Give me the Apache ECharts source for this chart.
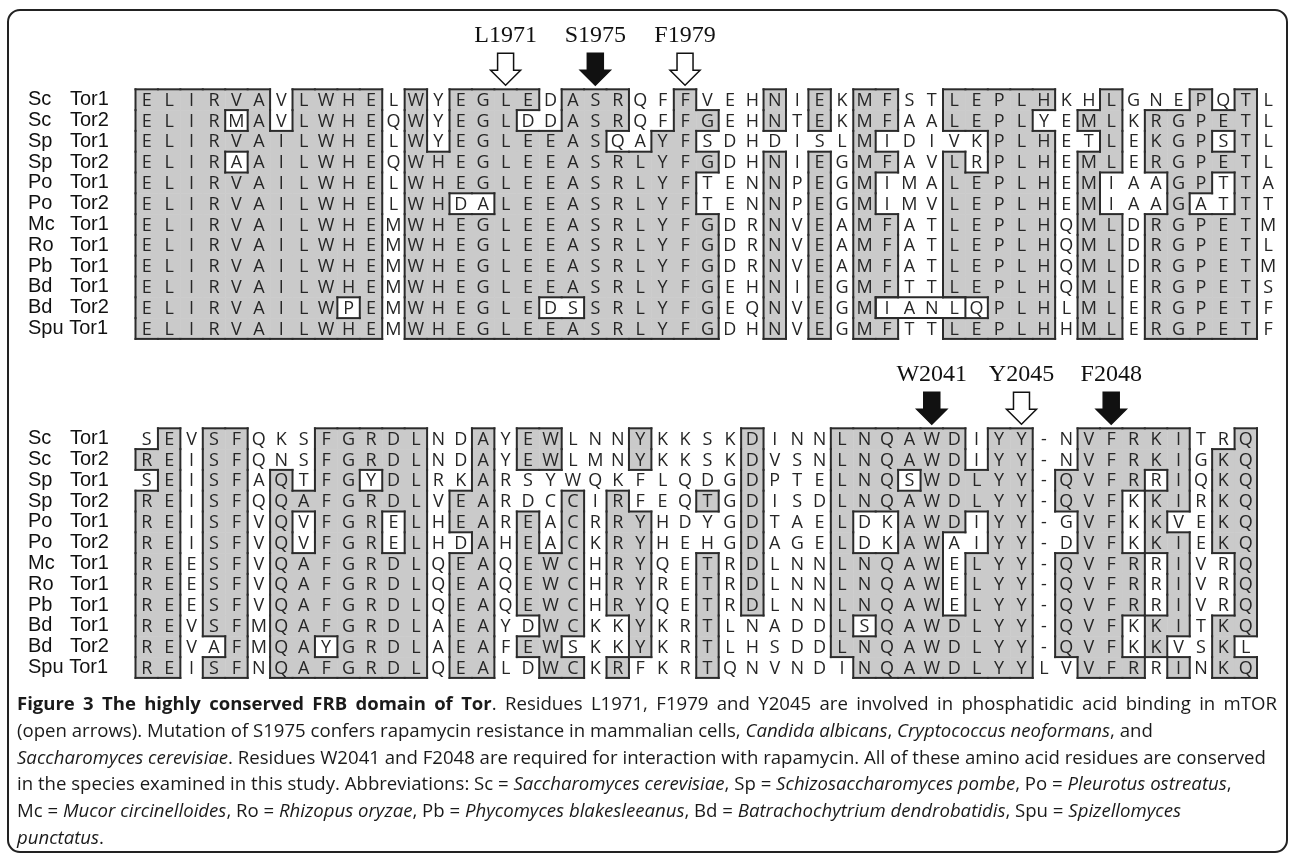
<!DOCTYPE html>
<html>
<head>
<meta charset="utf-8">
<style>
    html, body { margin: 0; padding: 0; background: #fff; }
    #chart { width: 1293px; height: 857px; }
</style>
</head>
<body>
<div id="chart"></div>
<script src="https://cdn.jsdelivr.net/npm/echarts@6/dist/echarts.min.js"></script>
<script>
// row names, same for both blocks
const rowNames = ['Sc Tor1', 'Sc Tor2', 'Sp Tor1', 'Sp Tor2', 'Po Tor1', 'Po Tor2',
    'Mc Tor1', 'Ro Tor1', 'Pb Tor1', 'Bd Tor1', 'Bd Tor2', 'Spu Tor1'];

// block 1 residues
const seqTop = [
    'ELIRVAVLWHELWYEGLEDASRQFFVEHNIEKMFSTLEPLHKHLGNEPQTL',
    'ELIRMAVLWHEQWYEGLDDASRQFFGEHNTEKMFAALEPLYEMLKRGPETL',
    'ELIRVAILWHELWYEGLEEASQAYFSDHDISLMIDIVKPLHETLEKGPSTL',
    'ELIRAAILWHEQWHEGLEEASRLYFGDHNIEGMFAVLRPLHEMLERGPETL',
    'ELIRVAILWHELWHEGLEEASRLYFTENNPEGMIMALEPLHEMIAAGPTTA',
    'ELIRVAILWHELWHDALEEASRLYFTENNPEGMIMVLEPLHEMIAAGATTT',
    'ELIRVAILWHEMWHEGLEEASRLYFGDRNVEAMFATLEPLHQMLDRGPETM',
    'ELIRVAILWHEMWHEGLEEASRLYFGDRNVEAMFATLEPLHQMLDRGPETL',
    'ELIRVAILWHEMWHEGLEEASRLYFGDRNVEAMFATLEPLHQMLDRGPETM',
    'ELIRVAILWHEMWHEGLEEASRLYFGEHNIEGMFTTLEPLHQMLERGPETS',
    'ELIRVAILWPEMWHEGLEDSSRLYFGEQNVEGMIANLQPLHLMLERGPETF',
    'ELIRVAILWHEMWHEGLEEASRLYFGDHNVEGMFTTLEPLHHMLERGPETF'
];
// block 1 shading ('#' = grey box)
const shadeTop = [
    '######.###' + '#.#.####.#' + '##..#...#.' + '#.##..####' + '#..#...#.#.',
    '####.#.###' + '#.#.###..#' + '##..##..#.' + '#.##..####' + '..##.#####.',
    '##########' + '#.#.######' + '#..##.....' + '..#.....##' + '#..#.###.#.',
    '####.#####' + '#.########' + '######..#.' + '#.##..#.##' + '#.##.#####.',
    '##########' + '#.########' + '#####...#.' + '#.#...####' + '#.#...##.#.',
    '##########' + '#.##..####' + '#####...#.' + '#.#...####' + '#.#...#..#.',
    '##########' + '#.########' + '######..#.' + '#.##..####' + '#.##.#####.',
    '##########' + '#.########' + '######..#.' + '#.##..####' + '#.##.#####.',
    '##########' + '#.########' + '######..#.' + '#.##..####' + '#.##.#####.',
    '##########' + '#.########' + '######..#.' + '#.##..####' + '#.##.#####.',
    '#########.' + '#.######..' + '######..#.' + '#.#.....##' + '#.##.#####.',
    '##########' + '#.########' + '######..#.' + '#.##..####' + '#.##.#####.'
];
// extra outlined runs in block 1: [row, first col, last col]
const boxTop = [[10, 33, 36]];

// block 2 residues
const seqBottom = [
    'SEVSFQKSFGRDLNDAYEWLNNYKKSKDINNLNQAWDIYY-NVFRKITRQ',
    'REISFQNSFGRDLNDAYEWLMNYKKSKDVSNLNQAWDIYY-NVFRKIGKQ',
    'SEISFAQTFGYDLRKARSYWQKFLQDGDPTELNQSWDLYY-QVFRRIQKQ',
    'REISFQQAFGRDLVEARDCCIRFEQTGDISDLNQAWDLYY-QVFKKIRKQ',
    'REISFVQVFGRELHEAREACRRYHDYGDTAELDKAWDIYY-GVFKKVEKQ',
    'REISFVQVFGRELHDAHEACKRYHEHGDAGELDKAWAIYY-DVFKKIEKQ',
    'REESFVQAFGRDLQEAQEWCHRYQETRDLNNLNQAWELYY-QVFRRIVRQ',
    'REESFVQAFGRDLQEAQEWCHRYRETRDLNNLNQAWELYY-QVFRRIVRQ',
    'REESFVQAFGRDLQEAQEWCHRYQETRDLNNLNQAWELYY-QVFRRIVRQ',
    'REVSFMQAFGRDLAEAYDWCKKYKRTLNADDLSQAWDLYY-QVFKKITKQ',
    'REVAFMQAYGRDLAEAFEWSKKYKRTLHSDDLNQAWDLYY-QVFKKVSKL',
    'REISFNQAFGRDLQEALDWCKRFKRTQNVNDINQAWDLYYLVVFRRINKQ'
];
const shadeBottom = [
    '.#.##...##' + '###..#.##.' + '..#....#..' + '.######.##' + '..#####..#',
    '##.##...##' + '###..#.##.' + '..#....#..' + '.######.##' + '..#####.##',
    '.#.##.#.##' + '.##..#....' + '.......#..' + '.###.#####' + '.####.#.##',
    '##.##.####' + '###.##...#' + '.#...#.#..' + '.#########' + '.###.##.##',
    '##.##.#.##' + '#.#.##.#.#' + '.##....#..' + '.#..###.##' + '..##.#..##',
    '##.##.#.##' + '#.#..#.#.#' + '.##....#..' + '.#..##..##' + '..##.##.##',
    '##.##.####' + '###.##.###' + '.##..#.#..' + '.#####.###' + '.####.#..#',
    '##.##.####' + '###.##.###' + '.##..#.#..' + '.#####.###' + '.####.#..#',
    '##.##.####' + '###.##.###' + '.##..#.#..' + '.#####.###' + '.####.#..#',
    '##.##.####' + '###.##..##' + '..#..#....' + '.#.#######' + '.###.##.##',
    '##..#.##.#' + '###.##.##.' + '..#..#....' + '.#########' + '.###.#..#.',
    '##.##.####' + '###.##..##' + '.#...#....' + '..########' + '..###.#.##'
];
const boxBottom = [];

// residue markers: label, column (0 based), filled arrow
const arrowsTop = [['L1971', 16, false], ['S1975', 20, true], ['F1979', 24, false]];
const arrowsBottom = [['W2041', 35, true], ['Y2045', 39, false], ['F2048', 43, true]];

// legend text: [style, text] pieces per line, justified flag
const captionLines = [
    [true, [['b', 'Figure 3 The highly conserved FRB domain of Tor'], ['n', '. Residues L1971, F1979 and Y2045 are involved in phosphatidic acid binding in mTOR']]],
    [false, [['n', '(open arrows). Mutation of S1975 confers rapamycin resistance in mammalian cells, '], ['i', 'Candida albicans'], ['n', ', '], ['i', 'Cryptococcus neoformans'], ['n', ', and']]],
    [false, [['i', 'Saccharomyces cerevisiae'], ['n', '. Residues W2041 and F2048 are required for interaction with rapamycin. All of these amino acid residues are conserved']]],
    [false, [['n', 'in the species examined in this study. Abbreviations: Sc = '], ['i', 'Saccharomyces cerevisiae'], ['n', ', Sp = '], ['i', 'Schizosaccharomyces pombe'], ['n', ', Po = '], ['i', 'Pleurotus ostreatus'], ['n', ',']]],
    [false, [['n', 'Mc = '], ['i', 'Mucor circinelloides'], ['n', ', Ro = '], ['i', 'Rhizopus oryzae'], ['n', ', Pb = '], ['i', 'Phycomyces blakesleeanus'], ['n', ', Bd = '], ['i', 'Batrachochytrium dendrobatidis'], ['n', ', Spu = '], ['i', 'Spizellomyces']]],
    [false, [['i', 'punctatus'], ['n', '.']]]
];

const SHADE = '#cacaca';
const EDGE = '#2b2b2b';

function isOn(mask, r, c) {
    return !!(mask[r] && mask[r][c] === '#');
}

function cellData(seqs) {
    const out = [];
    seqs.forEach((s, r) => {
        s.split('').forEach((ch, c) => out.push([c, r, ch]));
    });
    return out;
}

// grey fills
function fillSeries(idx, seqs, mask) {
    return {
        type: 'custom', xAxisIndex: idx, yAxisIndex: idx, silent: true, z: 1,
        data: cellData(seqs),
        renderItem(params, api) {
            const c = api.value(0), r = api.value(1);
            if (!isOn(mask, r, c)) return null;
            const p = api.coord([c, r]);
            const sz = api.size([1, 1]);
            return {
                type: 'rect',
                shape: { x: p[0], y: p[1] - sz[1] / 2, width: sz[0] + 0.5, height: sz[1] + 0.5 },
                style: { fill: SHADE }
            };
        }
    };
}

// letters
function textSeries(idx, seqs) {
    return {
        type: 'custom', xAxisIndex: idx, yAxisIndex: idx, silent: true, z: 2,
        data: cellData(seqs),
        renderItem(params, api) {
            const c = api.value(0), r = api.value(1);
            const p = api.coord([c + 0.5, r]);
            return {
                type: 'text',
                style: {
                    x: p[0], y: p[1] + 1, text: seqs[r][c],
                    align: 'center', verticalAlign: 'middle',
                    font: '18px "Open Sans"', fill: '#262626'
                }
            };
        }
    };
}

// outlines where grey meets white
function edgeSeries(idx, seqs, mask) {
    const nCols = seqs[0].length, nRows = seqs.length;
    return {
        type: 'custom', xAxisIndex: idx, yAxisIndex: idx, silent: true, z: 3,
        data: cellData(seqs),
        renderItem(params, api) {
            const c = api.value(0), r = api.value(1);
            const p = api.coord([c, r]);
            const sz = api.size([1, 1]);
            const x0 = p[0], y0 = p[1] - sz[1] / 2, x1 = x0 + sz[0], y1 = y0 + sz[1];
            const me = isOn(mask, r, c);
            const segs = [];
            if (me !== isOn(mask, r, c - 1)) segs.push([x0, y0, x0, y1]);
            if (me !== isOn(mask, r - 1, c)) segs.push([x0, y0, x1, y0]);
            if (me && c === nCols - 1) segs.push([x1, y0, x1, y1]);
            if (me && r === nRows - 1) segs.push([x0, y1, x1, y1]);
            if (!segs.length) return null;
            return {
                type: 'group',
                children: segs.map(s => ({
                    type: 'line',
                    shape: { x1: s[0], y1: s[1], x2: s[2], y2: s[3] },
                    style: { stroke: EDGE, lineWidth: 2, lineCap: 'square' }
                }))
            };
        }
    };
}

// extra outlined runs
function boxSeries(idx, boxes) {
    return {
        type: 'custom', xAxisIndex: idx, yAxisIndex: idx, silent: true, z: 3,
        data: boxes,
        renderItem(params, api) {
            const r = api.value(0), c0 = api.value(1), c1 = api.value(2);
            const p = api.coord([c0, r]);
            const sz = api.size([c1 - c0 + 1, 1]);
            return {
                type: 'rect',
                shape: { x: p[0], y: p[1] - sz[1] / 2, width: sz[0], height: sz[1] },
                style: { fill: 'none', stroke: EDGE, lineWidth: 2 }
            };
        }
    };
}

// arrows + residue labels above a block
function arrowSeries(idx, marks) {
    return {
        type: 'custom', xAxisIndex: idx, yAxisIndex: idx, silent: true, clip: false, z: 4,
        data: marks.map(m => [m[1], 0, m[0], m[2] ? 1 : 0]),
        renderItem(params, api) {
            const p = api.coord([api.value(0) + 0.5, 0]);
            const sz = api.size([1, 1]);
            const top = p[1] - sz[1] / 2;
            const cx = p[0];
            const filled = api.value(3) === 1;
            const pts = [
                [cx - 8, top - 36], [cx + 8, top - 36], [cx + 8, top - 19], [cx + 15, top - 19],
                [cx, top - 4], [cx - 15, top - 19], [cx - 8, top - 19]
            ];
            return {
                type: 'group',
                children: [{
                    type: 'polygon',
                    shape: { points: pts },
                    style: { fill: filled ? '#111' : '#fff', stroke: '#111', lineWidth: 1.5 }
                }, {
                    type: 'text',
                    style: {
                        x: cx, y: top - 54, text: marks[params.dataIndex][0],
                        align: 'center', verticalAlign: 'middle',
                        font: '24px "Liberation Serif"', fill: '#111'
                    }
                }]
            };
        }
    };
}

function nameLabel(v) {
    const parts = v.split(' ');
    if (parts[0].length > 2) return '{s|' + parts[0] + ' ' + parts[1] + '}';
    return '{a|' + parts[0] + '}{s|' + parts[1] + '}';
}

const nameRich = {
    a: { width: 42, fontSize: 20, fontFamily: 'Liberation Sans', color: '#111' },
    s: { fontSize: 20, fontFamily: 'Liberation Sans', color: '#111' }
};

const cellW = 22.43, cellH = 20.8, gridLeft = 135.5;

const chart = echarts.init(document.getElementById('chart'));

const option = {
    animation: false,
    backgroundColor: '#fff',
    grid: [
        { left: gridLeft, top: 89.3, width: cellW * seqTop[0].length, height: cellH * 12 },
        { left: gridLeft, top: 428.3, width: cellW * seqBottom[0].length, height: cellH * 12 }
    ],
    xAxis: [
        { gridIndex: 0, type: 'value', min: 0, max: seqTop[0].length, show: false },
        { gridIndex: 1, type: 'value', min: 0, max: seqBottom[0].length, show: false }
    ],
    yAxis: [0, 1].map(i => ({
        gridIndex: i, type: 'category', data: rowNames, inverse: true,
        axisLine: { show: false }, axisTick: { show: false }, splitLine: { show: false },
        axisLabel: {
            interval: 0, hideOverlap: false,
            margin: gridLeft - 28, align: 'left', fontSize: 20, fontFamily: 'Liberation Sans',
            color: '#111', formatter: nameLabel, rich: nameRich
        }
    })),
    series: [
        fillSeries(0, seqTop, shadeTop),
        textSeries(0, seqTop),
        edgeSeries(0, seqTop, shadeTop),
        boxSeries(0, boxTop),
        arrowSeries(0, arrowsTop),
        fillSeries(1, seqBottom, shadeBottom),
        textSeries(1, seqBottom),
        edgeSeries(1, seqBottom, shadeBottom),
        boxSeries(1, boxBottom),
        arrowSeries(1, arrowsBottom)
    ],
    graphic: []
};

// legend under the figure, words placed one by one so that full lines can be justified
const capFonts = {
    b: 'bold 18.5px "Open Sans"',
    n: '18.6px "Open Sans"',
    i: 'italic 18.6px "Open Sans"'
};
const measure = document.createElement('canvas').getContext('2d');
function textW(st, s) {
    measure.font = capFonts[st];
    return measure.measureText(s).width;
}
const capLeft = 17, capRight = 1277, capTop = 705, capStep = 26.7;

captionLines.forEach(([justify, segs], k) => {
    // split into words, each word a list of [style, text] pieces
    const words = [[]];
    segs.forEach(([st, txt]) => {
        txt.split(' ').forEach((part, j) => {
            if (j > 0) words.push([]);
            if (part) words[words.length - 1].push([st, part]);
        });
    });
    const list = words.filter(w => w.length);
    const widths = list.map(w => w.reduce((s, pc) => s + textW(pc[0], pc[1]), 0));
    const total = widths.reduce((a, b) => a + b, 0);
    const space = textW('n', ' ');
    const gap = justify
        ? Math.max(space, (capRight - capLeft - total) / (list.length - 1))
        : space;
    let x = capLeft;
    const y = capTop + k * capStep;
    list.forEach(w => {
        w.forEach(([st, txt]) => {
            option.graphic.push({
                type: 'text', silent: true,
                style: { x: x, y: y, text: txt, font: capFonts[st], fill: '#1a1a1a', verticalAlign: 'middle' }
            });
            x += textW(st, txt);
        });
        x += gap;
    });
});

// rounded frame
option.graphic.push({
    type: 'rect', silent: true, z: -1,
    shape: { x: 8, y: 10, width: 1279, height: 842, r: 12 },
    style: { fill: 'none', stroke: '#222', lineWidth: 2 }
});

chart.setOption(option);
</script>
</body>
</html>
